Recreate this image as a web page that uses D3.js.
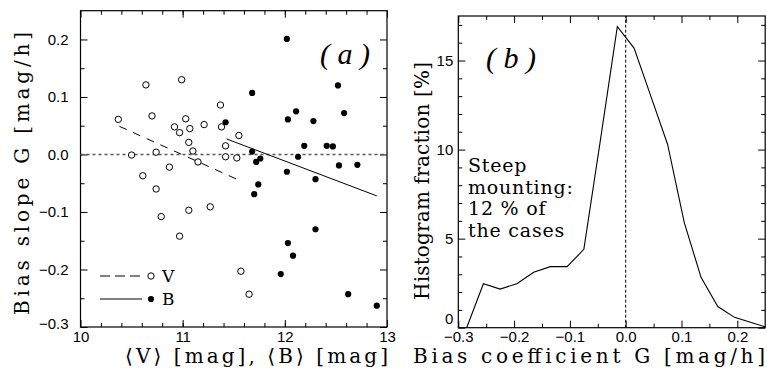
<!DOCTYPE html>
<html>
<head>
<meta charset="utf-8">
<script src="https://cdn.jsdelivr.net/npm/d3@7"></script>
<style>
body { margin: 0; background: #fff; }
.tick text { font-family: "Liberation Sans", Arial, sans-serif; font-size: 15px; fill: #000; }
.tick line { stroke: #000; stroke-width: 1; }
.lab { font-family: "DejaVu Serif", serif; font-size: 20px; fill: #000; }
</style>
</head>
<body>
<div id="chart"></div>
<script>
// panel (a): open circles = V, filled dots = B
const vMag   = [10.37, 10.64, 10.99, 10.70, 11.03, 10.92, 10.97, 11.07, 11.21, 11.37, 11.38, 11.06, 11.10, 11.42, 10.50,
                10.74, 11.42, 11.55, 11.53, 11.15, 10.87, 10.61, 10.74, 10.79, 11.06, 11.27, 10.97, 11.57, 11.65];
const vSlope = [0.061, 0.121, 0.130, 0.067, 0.062, 0.048, 0.038, 0.045, 0.052, 0.086, 0.048, 0.021, 0.006, 0.015, -0.001,
                0.004, -0.004, 0.033, -0.006, -0.013, -0.022, -0.037, -0.060, -0.108, -0.097, -0.091, -0.142, -0.203, -0.243];
const bMag   = [11.42, 12.02, 11.68, 12.52, 12.03, 12.11, 12.28, 12.58, 12.19, 12.41, 12.47, 11.68, 11.76, 11.72,
                12.13, 12.53, 12.71, 12.02, 12.30, 11.74, 11.70, 12.30, 12.03, 12.08, 11.96, 12.62, 12.90];
const bSlope = [0.056, 0.201, 0.107, 0.120, 0.061, 0.075, 0.058, 0.072, 0.015, 0.015, 0.014, 0.005, -0.007, -0.013,
                -0.004, -0.019, -0.018, -0.030, -0.043, -0.052, -0.069, -0.130, -0.154, -0.176, -0.208, -0.243, -0.263];
// fitted lines (end points)
const vFitMag = [10.38, 11.58], vFitSlope = [0.049, -0.047];
const bFitMag = [11.43, 12.90], bFitSlope = [0.027, -0.072];

// panel (b): histogram of bias coefficient
const histG    = [-0.285, -0.255, -0.225, -0.195, -0.165, -0.135, -0.105, -0.075, -0.045, -0.015,
                  0.015, 0.045, 0.075, 0.105, 0.135, 0.165, 0.195, 0.225, 0.255];
const histFrac = [0, 2.47, 2.17, 2.47, 3.11, 3.43, 3.43, 4.4, 10.6, 16.9,
                  15.7, 13.0, 10.3, 5.9, 2.83, 1.19, 0.58, 0.29, 0];

const ticksAx = [10, 11, 12, 13];
const ticksAy = [-0.3, -0.2, -0.1, 0.0, 0.1, 0.2];
const ticksBx = [-0.3, -0.2, -0.1, 0.0, 0.1, 0.2];
const ticksBy = [0, 5, 10, 15];

const width = 767, height = 369;
const svg = d3.select("#chart").append("svg").attr("width", width).attr("height", height);

const xa = d3.scaleLinear().domain([10, 13]).range([80.5, 387]);
const ya = d3.scaleLinear().domain([-0.3, 0.25]).range([327, 10.7]);
const xb = d3.scaleLinear().domain([-0.3, 0.25]).range([458.3, 765.2]);
const yb = d3.scaleLinear().domain([0, 17.5]).range([327.7, 16]);

// box with inward ticks on all four sides
function drawFrame(x, y, xMajor, xMinor, yMajor, yMinor, fx, fy, yPad, lowDy) {
    const [x0, x1] = x.range(), [y0, y1] = y.range();
    const g = svg.append("g");
    function put(axis, tr) {
        return g.append("g").attr("transform", tr).call(axis).call(s => s.select(".domain").remove());
    }
    put(d3.axisBottom(x).tickValues(xMajor).tickSize(-7).tickPadding(4).tickFormat(fx), `translate(0,${y0})`);
    put(d3.axisBottom(x).tickValues(xMinor).tickSize(-4).tickFormat(""), `translate(0,${y0})`);
    put(d3.axisTop(x).tickValues(xMajor).tickSize(-7).tickFormat(""), `translate(0,${y1})`);
    put(d3.axisTop(x).tickValues(xMinor).tickSize(-4).tickFormat(""), `translate(0,${y1})`);
    const left = put(d3.axisLeft(y).tickValues(yMajor).tickSize(-7).tickPadding(yPad).tickFormat(fy), `translate(${x0},0)`);
    put(d3.axisLeft(y).tickValues(yMinor).tickSize(-4).tickFormat(""), `translate(${x0},0)`);
    put(d3.axisRight(y).tickValues(yMajor).tickSize(-7).tickFormat(""), `translate(${x1},0)`);
    put(d3.axisRight(y).tickValues(yMinor).tickSize(-4).tickFormat(""), `translate(${x1},0)`);
    // lift the lowest y label off the x labels
    left.selectAll(".tick text").filter((d, i) => i === 0).attr("dy", lowDy);
    g.append("rect")
        .attr("x", x0).attr("y", y1)
        .attr("width", x1 - x0).attr("height", y0 - y1)
        .attr("fill", "none").attr("stroke", "#000").attr("stroke-width", 1.2);
}

// ---------- panel (a) ----------
drawFrame(xa, ya, ticksAx, d3.range(10.2, 13, 0.2), ticksAy, d3.range(-0.25, 0.25, 0.1),
          d3.format("d"), d3.format(".1f"), 12, "0.1em");

svg.append("line")
    .attr("x1", xa(10)).attr("x2", xa(13)).attr("y1", ya(0)).attr("y2", ya(0))
    .attr("stroke", "#555").attr("stroke-width", 1.5).attr("stroke-dasharray", "3,3");

svg.append("line")
    .attr("x1", xa(vFitMag[0])).attr("y1", ya(vFitSlope[0]))
    .attr("x2", xa(vFitMag[1])).attr("y2", ya(vFitSlope[1]))
    .attr("stroke", "#000").attr("stroke-width", 1).attr("stroke-dasharray", "8,7");
svg.append("line")
    .attr("x1", xa(bFitMag[0])).attr("y1", ya(bFitSlope[0]))
    .attr("x2", xa(bFitMag[1])).attr("y2", ya(bFitSlope[1]))
    .attr("stroke", "#000").attr("stroke-width", 1);

svg.append("g").selectAll("circle")
    .data(vMag.map((m, i) => [m, vSlope[i]]))
    .enter().append("circle")
    .attr("cx", d => xa(d[0])).attr("cy", d => ya(d[1])).attr("r", 3.2)
    .attr("fill", "#fff").attr("stroke", "#000").attr("stroke-width", 1);

svg.append("g").selectAll("circle")
    .data(bMag.map((m, i) => [m, bSlope[i]]))
    .enter().append("circle")
    .attr("cx", d => xa(d[0])).attr("cy", d => ya(d[1])).attr("r", 3.1)
    .attr("fill", "#000");

// legend
const leg = svg.append("g");
leg.append("line").attr("x1", 100).attr("x2", 142).attr("y1", 276).attr("y2", 276)
    .attr("stroke", "#000").attr("stroke-dasharray", "10,5");
leg.append("circle").attr("cx", 151).attr("cy", 276).attr("r", 3.2)
    .attr("fill", "#fff").attr("stroke", "#000");
leg.append("text").attr("class", "lab").attr("x", 162).attr("y", 282).style("font-size", "17px").text("V");
leg.append("line").attr("x1", 100).attr("x2", 142).attr("y1", 299).attr("y2", 299).attr("stroke", "#000");
leg.append("circle").attr("cx", 151).attr("cy", 299).attr("r", 3.1).attr("fill", "#000");
leg.append("text").attr("class", "lab").attr("x", 162).attr("y", 305).style("font-size", "17px").text("B");

svg.append("text").attr("x", 345).attr("y", 64).attr("text-anchor", "middle")
    .style("font-family", "Liberation Serif, serif").style("font-style", "italic").style("font-size", "30px")
    .text("( a )");

svg.append("text").attr("class", "lab")
    .attr("transform", "translate(29,173.5) rotate(-90)")
    .attr("text-anchor", "middle").attr("textLength", 283).attr("lengthAdjust", "spacing")
    .text("Bias slope G [mag/h]");
svg.append("text").attr("class", "lab")
    .attr("x", 256.5).attr("y", 363)
    .attr("text-anchor", "middle").attr("textLength", 263).attr("lengthAdjust", "spacing")
    .text("\u27E8V\u27E9 [mag], \u27E8B\u27E9 [mag]");

// ---------- panel (b) ----------
drawFrame(xb, yb, ticksBx, d3.range(-0.25, 0.25, 0.1), ticksBy, d3.range(0, 17.5, 1).filter(v => v % 5 !== 0),
          d3.format(".1f"), d3.format("d"), 5, "-0.3em");

svg.append("line")
    .attr("x1", xb(0)).attr("x2", xb(0)).attr("y1", yb(0)).attr("y2", yb(17.5))
    .attr("stroke", "#000").attr("stroke-width", 1).attr("stroke-dasharray", "3,2");

svg.append("defs").append("clipPath").attr("id", "clipb")
    .append("rect").attr("x", xb(-0.3)).attr("y", yb(17.5))
    .attr("width", xb(0.25) - xb(-0.3)).attr("height", yb(0) - yb(17.5));

svg.append("path")
    .datum(histG.map((g, i) => [g, histFrac[i]]))
    .attr("clip-path", "url(#clipb)")
    .attr("d", d3.line().x(d => xb(d[0])).y(d => yb(d[1])))
    .attr("fill", "none").attr("stroke", "#000").attr("stroke-width", 1.1);

svg.append("text").attr("x", 511).attr("y", 68).attr("text-anchor", "middle")
    .style("font-family", "Liberation Serif, serif").style("font-style", "italic").style("font-size", "30px")
    .text("( b )");

const note = ["Steep", "mounting:", "12 % of", "the cases"];
svg.append("g").selectAll("text").data(note).enter().append("text")
    .attr("class", "lab")
    .attr("x", 468).attr("y", (d, i) => 172 + i * 21.5)
    .style("font-size", "19px")
    .style("letter-spacing", "0.8px")
    .text(d => d);

svg.append("text").attr("class", "lab")
    .attr("transform", "translate(429,181) rotate(-90)")
    .attr("text-anchor", "middle").attr("textLength", 238).attr("lengthAdjust", "spacing")
    .text("Histogram fraction [%]");
svg.append("text").attr("class", "lab")
    .attr("x", 589).attr("y", 363)
    .attr("text-anchor", "middle").attr("textLength", 352).attr("lengthAdjust", "spacing")
    .text("Bias coefficient G [mag/h]");
</script>
</body>
</html>
